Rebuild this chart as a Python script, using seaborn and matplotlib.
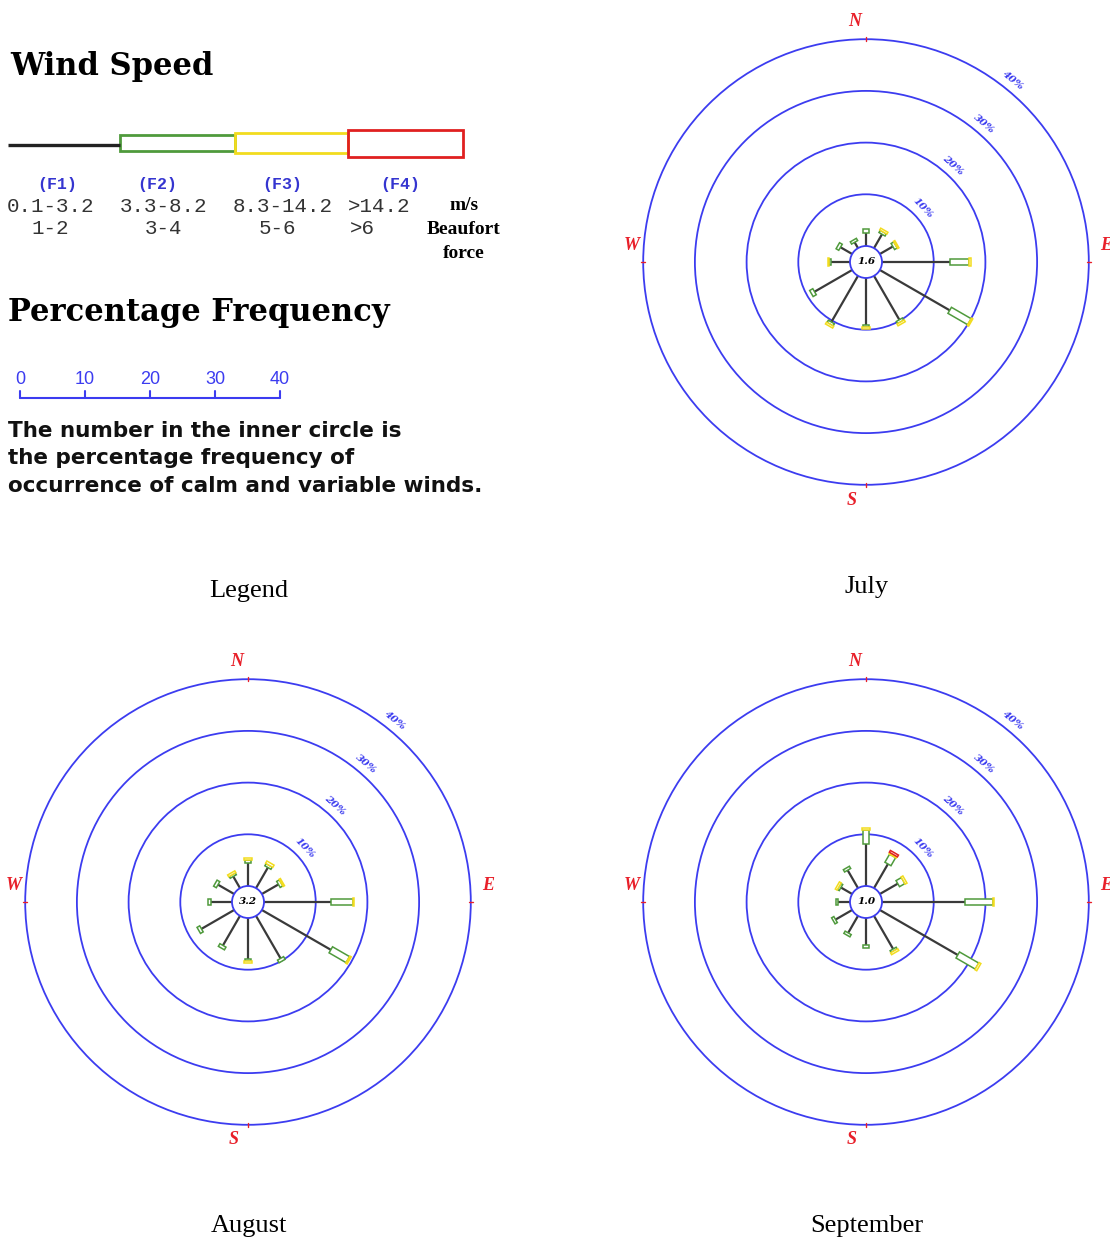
import numpy as np
import pandas as pd
import seaborn as sns
import matplotlib.pyplot as plt
from matplotlib.patches import Circle, Polygon

# ---- data ----
directions = [0, 30, 60, 90, 120, 150, 180, 210, 240, 270, 300, 330]
ring_levels = [10, 20, 30, 40]
ring_label_angle = [46, 42, 40.5, 39]

months = ['July', 'August', 'September']
calm_pct = [1.6, 3.2, 1.0]

jul_f1 = [2.6, 3.1, 2.9, 13.1, 15.6, 9.8, 9.0, 10.3, 8.4, 3.7, 2.6, 1.3]
jul_f2 = [0.6, 0.5, 0.6, 3.8, 4.4, 0.5, 0.5, 0.5, 0.7, 0.3, 0.6, 0.5]
jul_f3 = [0, 0.4, 0.3, 0.3, 0.3, 0.4, 0.4, 0.4, 0, 0.3, 0, 0]
jul_f4 = [0, 0, 0, 0, 0, 0, 0, 0, 0, 0, 0, 0]

aug_f1 = [4.5, 4.6, 3.7, 13.0, 15.4, 9.5, 8.0, 6.6, 7.3, 4.1, 3.6, 2.6]
aug_f2 = [0.5, 0.5, 0.6, 4.2, 3.8, 0.6, 0.4, 0.6, 0.6, 0.5, 0.6, 0.4]
aug_f3 = [0.4, 0.5, 0.3, 0.3, 0.3, 0, 0.4, 0, 0, 0, 0, 0.4]
aug_f4 = [0, 0, 0, 0, 0, 0, 0, 0, 0, 0, 0, 0]

sep_f1 = [8.1, 5.4, 4.0, 16.0, 17.4, 7.4, 5.3, 3.8, 3.7, 2.3, 2.5, 4.0]
sep_f2 = [2.8, 1.8, 1.2, 5.4, 4.3, 0.4, 0.5, 0.5, 0.5, 0.4, 0.4, 0.5]
sep_f3 = [0.3, 0.3, 0.4, 0.3, 0.4, 0.4, 0, 0, 0, 0, 0.4, 0]
sep_f4 = [0, 0.4, 0, 0, 0, 0, 0, 0, 0, 0, 0, 0]

classes = ['(F1)', '(F2)', '(F3)', '(F4)']
speeds = ['0.1-3.2', '3.3-8.2', '8.3-14.2', '>14.2']
beaufort = ['1-2', '3-4', '5-6', '>6']
scale_ticks = [0, 10, 20, 30, 40]

# ---- styling ----
sns.set_style('white')
plt.rcParams['font.family'] = ['DejaVu Sans']
plt.rcParams['text.color'] = 'black'
blue = '#3c3cf0'
red = '#e8202a'
seg_colors = ['#4f9a3c', '#f2dc1e', '#e02020']
seg_widths = [1.35, 1.6, 1.8]
W, H = 1110, 1242
px_per_pct = 5.17
calm_r = 16 / px_per_pct

fig = plt.figure(figsize=(W / 100, H / 100), dpi=100)
bg = fig.add_axes([0, 0, 1, 1])
bg.set_xlim(0, W)
bg.set_ylim(H, 0)
bg.axis('off')

# ---- legend panel ----
serif = 'DejaVu Serif'
bg.text(10, 66, 'Wind Speed', family=serif, weight='bold', fontsize=22, va='center')
edges = [8, 120, 235, 348, 463]
heights = [0, 16, 20, 27]
bg.plot([edges[0], edges[1]], [145, 145], color='#222222', lw=2.4, solid_capstyle='butt')
for i in range(1, 4):
    bg.add_patch(plt.Rectangle((edges[i], 143 - heights[i] / 2), edges[i + 1] - edges[i], heights[i],
                               fill=False, ec=seg_colors[i - 1], lw=2))
for lab, x in zip(classes, [57, 157, 282, 400]):
    bg.text(x, 184, lab, family='Liberation Mono', weight='bold', color='#3535d0', fontsize=12,
            ha='center', va='center')
for lab, x in zip(speeds, [edges[0] - 1, edges[1], edges[2] - 2, edges[3]]):
    bg.text(x, 206, lab, family='Liberation Mono', color='#333333', fontsize=15, ha='left', va='center')
for lab, x in zip(beaufort, [50, 164, 277, 362]):
    bg.text(x, 229, lab, family='Liberation Mono', color='#333333', fontsize=15, ha='center', va='center')
for lab, y in zip(['m/s', 'Beaufort', 'force'], [206, 229, 254]):
    bg.text(464, y, lab, family='Liberation Serif', weight='bold', fontsize=14, ha='center', va='center')

bg.text(8, 312, 'Percentage Frequency', family=serif, weight='bold', fontsize=22, va='center')
sx = [20 + v * 6.5 for v in scale_ticks]
bg.plot([sx[0], sx[-1]], [398, 398], color=blue, lw=1.5)
for v, x in zip(scale_ticks, sx):
    bg.plot([x, x], [391, 398], color=blue, lw=1.5)
    bg.text(x, 379, str(v), color=blue, fontsize=13, ha='center', va='center', family='Liberation Sans')
for i, line in enumerate(['The number in the inner circle is',
                          'the percentage frequency of',
                          'occurrence of calm and variable winds.']):
    bg.text(8, 431 + i * 27.5, line, weight='bold', fontsize=15.5, va='center', color='#111111')

# captions
for lab, (x, y) in zip(['Legend'] + months, [(249, 591), (867, 587), (249, 1226), (867, 1226)]):
    bg.text(x, y, lab, family='Liberation Serif', fontsize=19, ha='center', va='center')

# ---- wind roses ----
centers = [(866, 262), (248, 902), (866, 902)]
data = [(jul_f1, jul_f2, jul_f3, jul_f4), (aug_f1, aug_f2, aug_f3, aug_f4),
        (sep_f1, sep_f2, sep_f3, sep_f4)]
compass = {'N': (-11, -240), 'E': (240, -17), 'S': (-14, 238), 'W': (-234, -17)}
half = 250
lim = half / px_per_pct

th = np.deg2rad(directions)
ux, uy = np.sin(th), np.cos(th)

for (cx, cy), (f1, f2, f3, f4), calm in zip(centers, data, calm_pct):
    ax = fig.add_axes([(cx - half) / W, 1 - (cy + half) / H, 2 * half / W, 2 * half / H])
    ax.patch.set_visible(False)

    for lev, ang in zip(ring_levels, ring_label_angle):
        r = calm_r + lev
        ax.add_patch(Circle((0, 0), r, fill=False, ec=blue, lw=1.3, zorder=1))
        a = np.deg2rad(ang)
        rl = r + 2.0
        ax.text(rl * np.sin(a), rl * np.cos(a), f'{lev}%', color=blue, fontsize=7.5, family=serif,
                style='italic', weight='bold', rotation=-ang, ha='center', va='center', zorder=2)

    outer = calm_r + ring_levels[-1]
    for ang in [0, 90, 180, 270]:
        a = np.deg2rad(ang)
        ax.plot([(outer - 0.4) * np.sin(a), (outer + 0.4) * np.sin(a)],
                [(outer - 0.4) * np.cos(a), (outer + 0.4) * np.cos(a)], color=red, lw=1, zorder=2)
    for lab, (dx, dy) in compass.items():
        ax.text(dx / px_per_pct, -dy / px_per_pct, lab, color=red, family='Liberation Serif',
                style='italic', weight='bold', fontsize=13, ha='center', va='center', clip_on=False)

    # calm (F1) spokes through seaborn
    f1 = np.array(f1)
    spokes = pd.DataFrame({
        'dir': np.repeat(directions, 2),
        'x': np.column_stack([calm_r * ux, (calm_r + f1) * ux]).ravel(),
        'y': np.column_stack([calm_r * uy, (calm_r + f1) * uy]).ravel(),
    })
    sns.lineplot(data=spokes, x='x', y='y', units='dir', estimator=None, sort=False,
                 color='#3a3a3a', lw=1.6, ax=ax, legend=False, zorder=3)

    # stronger classes as hollow boxes stacked outward
    start = calm_r + f1
    for seg, col, wd in zip([f2, f3, f4], seg_colors, seg_widths):
        seg = np.array(seg)
        for k in range(len(directions)):
            if seg[k] <= 0:
                continue
            u = np.array([ux[k], uy[k]])
            n = np.array([uy[k], -ux[k]]) * wd / 2
            p0 = u * start[k]
            p1 = u * (start[k] + seg[k])
            ax.add_patch(Polygon([p0 + n, p1 + n, p1 - n, p0 - n], closed=True, fc='white',
                                 ec=col, lw=1.1, zorder=4))
        start = start + seg

    ax.add_patch(Circle((0, 0), calm_r, fc='white', ec=blue, lw=1.3, zorder=5))
    ax.text(0, 0, f'{calm:.1f}', family=serif, style='italic', weight='bold', fontsize=7.5,
            ha='center', va='center', zorder=6)

    ax.set_xlim(-lim, lim)
    ax.set_ylim(-lim, lim)
    ax.set_aspect('equal')
    ax.axis('off')

fig.savefig('out.png', dpi=100)
